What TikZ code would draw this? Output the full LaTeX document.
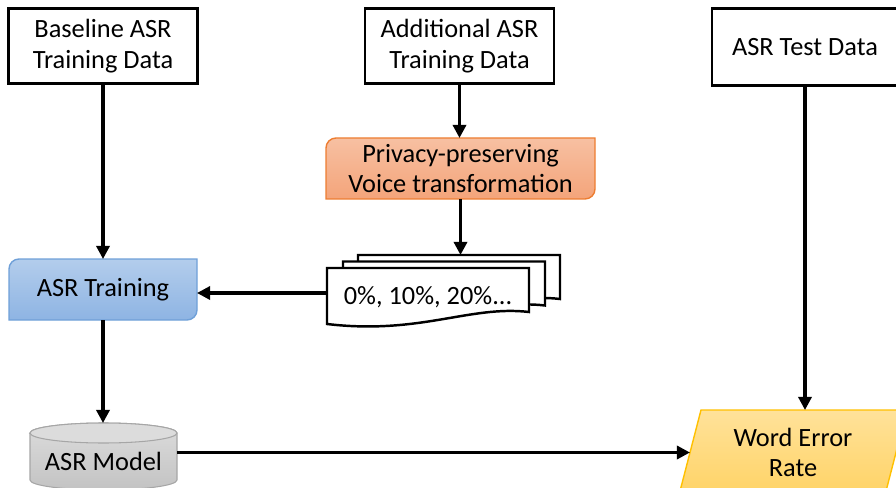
\documentclass[tikz,border=0pt]{standalone}
\usepackage{fontspec}
\setmainfont{Carlito}
\usetikzlibrary{arrows.meta,backgrounds,calc}

\definecolor{privtop}{HTML}{F7C0A2}
\definecolor{privbot}{HTML}{F4A47A}
\definecolor{privline}{HTML}{ED7D31}
\definecolor{traintop}{HTML}{B3CDEC}
\definecolor{trainbot}{HTML}{8EB4E3}
\definecolor{trainline}{HTML}{6FA0D8}
\definecolor{cyltop}{HTML}{DCDCDC}
\definecolor{cylbot}{HTML}{C3C3C3}
\definecolor{cylline}{HTML}{A6A6A6}
\definecolor{wertop}{HTML}{FFE29A}
\definecolor{werbot}{HTML}{FFD366}
\definecolor{werline}{HTML}{FFC000}

\tikzset{
  databox/.style={draw, line width=1.4pt, fill=white, minimum width=3.78cm, minimum height=1.5cm, align=center},
  flat/.style={minimum width=#1, minimum height=1.22cm, outer sep=0pt, align=center},
  flow/.style={draw, line width=1.8pt, -{Triangle[length=7.5pt,width=7.5pt]}},
  docline/.style={line width=1.4pt, fill=white},
}
\newcommand{\cornerbox}[2]{%
  \draw[#2] ($(#1.north west)+(0,-0.2)$) arc[start angle=180,end angle=90,radius=0.2]
    -- (#1.north east) -- ($(#1.south east)+(0,0.2)$) arc[start angle=0,end angle=-90,radius=0.2]
    -- (#1.south west) -- cycle;}

\begin{document}
\begin{tikzpicture}[every node/.append style={font=\fontsize{15}{17.5}\selectfont}]
    \useasboundingbox (0,0) rectangle (17.92,-9.76);
    \node[databox] (base) at (2.06,-0.92) {Baseline ASR\\Training Data};
    \node[databox] (add) at (9.19,-0.92) {Additional ASR\\Training Data};
    \node[databox, minimum width=3.72cm, minimum height=1.54cm] (test) at (16.1,-0.94) {ASR Test Data};
    \node[flat=5.38cm] (priv) at (9.21,-3.37) {Privacy-preserving\\Voice transformation};
    \node[flat=3.76cm] (train) at (2.06,-5.79) {ASR Training};
    \foreach \n/\dx/\dy in {C/0.62/0.26, B/0.32/0.13, A/0/0}{
        \draw[docline, shift={(\dx,\dy)}] (6.54,-5.36) -- (10.58,-5.36) -- (10.58,-6.24) .. controls (9.4,-6.1) and (8.4,-6.7) .. (6.54,-6.48) -- cycle;
        \node[minimum width=4.04cm, minimum height=1cm, outer sep=0pt] (doc\n) at (8.56+\dx,-5.86+\dy) {};
    }
    \node (pct) at ($(docA)+(0,-0.08)$) {0\%, 10\%, 20\%...};
    \node[minimum width=2.94cm, minimum height=1.52cm, outer sep=0pt] (model) at (2.07,-9.22) {ASR Model};
    \node[minimum width=4.12cm, minimum height=1.7cm, outer sep=0pt, align=center] (wer) at (15.86,-9.05) {Word Error\\Rate};

    \begin{pgfonlayer}{background}
        \cornerbox{priv}{draw=privline, line width=0.8pt, top color=privtop, bottom color=privbot}
        \cornerbox{train}{draw=trainline, line width=0.8pt, top color=traintop, bottom color=trainbot}
        \draw[draw=cylline, line width=0.6pt, top color=cyltop, bottom color=cylbot] (0.6,-8.66) -- (0.6,-9.6) arc[start angle=180, end angle=360, x radius=1.47, y radius=0.2] -- (3.54,-8.66) arc[start angle=0, end angle=180, x radius=1.47, y radius=0.2] -- cycle;
        \draw[draw=cylline, line width=0.6pt, fill=cyltop] (2.07,-8.66) ellipse[x radius=1.47, y radius=0.2];
        \draw[draw=werline, line width=0.8pt, top color=wertop, bottom color=werbot] ($(wer.north west)+(0.22,0)$) -- ($(wer.north east)+(0.22,0)$) -- ($(wer.south east)+(-0.22,0)$) -- ($(wer.south west)+(-0.22,0)$) -- cycle;
    \end{pgfonlayer}

    \draw[flow] (base.south) -- (train.north);
    \draw[flow] (add.south) -- (add.south |- priv.north);
    \draw[flow] (priv.south) -- (priv.south |- docC.north);
    \draw[flow] (docA.west) -- (docA.west -| train.east);
    \draw[flow] (train.south) -- (train.south |- model.north);
    \draw[flow] (model.east |- wer.west) -- (wer.west);
    \draw[flow] (test.south) -- (test.south |- wer.north);
\end{tikzpicture}
\end{document}
